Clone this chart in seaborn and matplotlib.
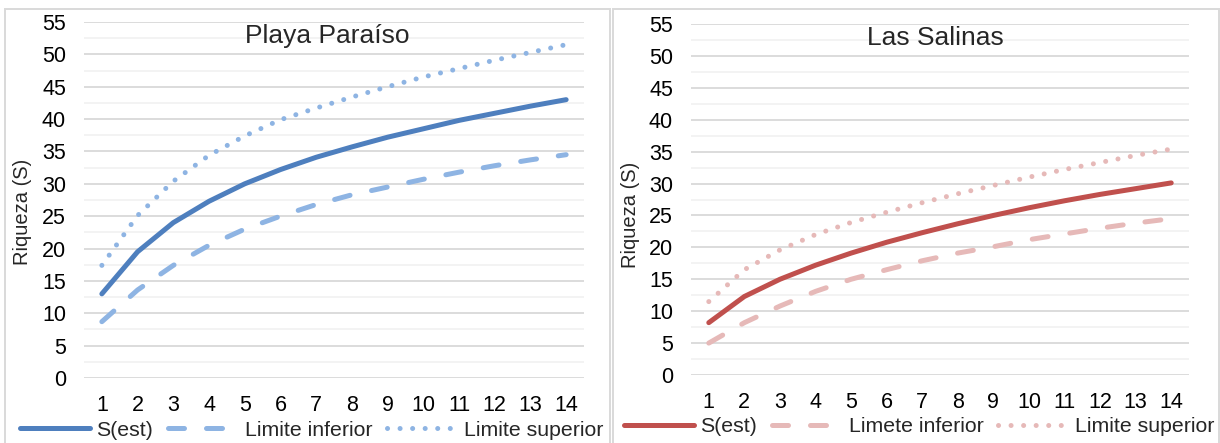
import numpy as np
import pandas as pd
import matplotlib
matplotlib.use("Agg")
import matplotlib.pyplot as plt
from matplotlib.patches import Rectangle
from matplotlib.ticker import MultipleLocator
import seaborn as sns

sns.set_theme(style="white")
plt.rcParams["font.family"] = ["Liberation Sans", "DejaVu Sans"]

muestras = list(range(1, 15))

# Playa Paraíso
pp_sest = [13.0, 19.5, 24.0, 27.3, 30.0, 32.2, 34.1, 35.7, 37.2, 38.5, 39.8, 40.9, 42.0, 43.0]
pp_inf = [8.7, 13.6, 17.4, 20.5, 23.0, 25.0, 26.8, 28.3, 29.5, 30.7, 31.8, 32.8, 33.7, 34.5]
pp_sup = [17.4, 25.1, 30.4, 34.4, 37.4, 39.9, 41.7, 43.4, 45.0, 46.5, 47.8, 49.1, 50.3, 51.5]

# Las Salinas
ls_sest = [8.2, 12.3, 15.0, 17.2, 19.1, 20.8, 22.3, 23.7, 25.0, 26.2, 27.3, 28.3, 29.2, 30.1]
ls_inf = [5.0, 8.2, 10.8, 13.1, 15.0, 16.5, 17.9, 19.1, 20.1, 21.2, 22.1, 23.0, 23.8, 24.5]
ls_sup = [11.5, 16.5, 19.6, 22.0, 23.9, 25.5, 27.0, 28.4, 29.7, 31.0, 32.2, 33.3, 34.4, 35.4]

paneles = [
    dict(titulo="Playa Paraíso", series=[pp_sest, pp_inf, pp_sup],
         nombres=["S(est)", "Limite inferior", "Limite superior"],
         colores=["#4E7FBE", "#8EB4E3", "#8EB4E3"],
         rect=[84 / 1220, 1 - 378 / 443, 500 / 1220, 356 / 443],
         caja=(5, 9, 605, 436), leg_x=0.455, ylab=(-0.122, 0.466), tit_x=0.487),
    dict(titulo="Las Salinas", series=[ls_sest, ls_inf, ls_sup],
         nombres=["S(est)", "Limete inferior", "Limite superior"],
         colores=["#C0504D", "#E6B9B8", "#E6B9B8"],
         rect=[691 / 1220, 1 - 375 / 443, 498 / 1220, 351 / 443],
         caja=(613, 9, 606, 436), leg_x=0.458, ylab=(-0.122, 0.456), tit_x=0.49),
]

estilos = [dict(linestyle="-"),
           dict(dashes=(3.2, 4.4), dash_capstyle="round"),
           dict(dashes=(0.01, 2.5), dash_capstyle="round")]

fig = plt.figure(figsize=(12.2, 4.43), dpi=100)

for p in paneles:
    x0, y0, w, h = p["caja"]
    fig.patches.append(Rectangle((x0 / 1220, 1 - (y0 + h) / 443), w / 1220, h / 443,
                                 transform=fig.transFigure, fill=False,
                                 edgecolor="#D9D9D9", linewidth=1.4))
    ax = fig.add_axes(p["rect"])
    for vals, nombre, color, est in zip(p["series"], p["nombres"], p["colores"], estilos):
        df = pd.DataFrame({"muestra": muestras, "riqueza": vals})
        sns.lineplot(data=df, x="muestra", y="riqueza", ax=ax, color=color,
                     linewidth=3.6, label=nombre, solid_capstyle="round", **est)
    ax.set_xlim(0.5, 14.5)
    ax.set_ylim(0, 55)
    ax.set_xticks(muestras)
    ax.yaxis.set_major_locator(MultipleLocator(5))
    ax.yaxis.set_minor_locator(MultipleLocator(2.5))
    ax.grid(axis="y", which="major", color="#D9D9D9", linewidth=1.3)
    ax.grid(axis="y", which="minor", color="#F2F2F2", linewidth=1.3)
    ax.grid(axis="x", visible=False)
    ax.set_axisbelow(True)
    for s in ax.spines.values():
        s.set_visible(False)
    ax.tick_params(axis="both", length=0, labelsize=15.5, colors="#000000")
    ax.tick_params(axis="x", pad=12)
    ax.tick_params(axis="y", pad=13)
    ax.set_xlabel("")
    ax.set_ylabel("Riqueza (S)", fontsize=14.5)
    ax.yaxis.set_label_coords(*p["ylab"])
    ax.yaxis.label.set_verticalalignment("center")
    ax.text(p["tit_x"], 0.995, p["titulo"], transform=ax.transAxes, ha="center", va="top",
            fontsize=19)
    ax.legend(loc="upper center", bbox_to_anchor=(p["leg_x"], -0.12), ncol=3,
              frameon=False, fontsize=15.3, handlelength=3.3, columnspacing=0.7,
              handletextpad=0.3, borderaxespad=0, borderpad=0)

fig.savefig("out.png", dpi=100, facecolor="white")
